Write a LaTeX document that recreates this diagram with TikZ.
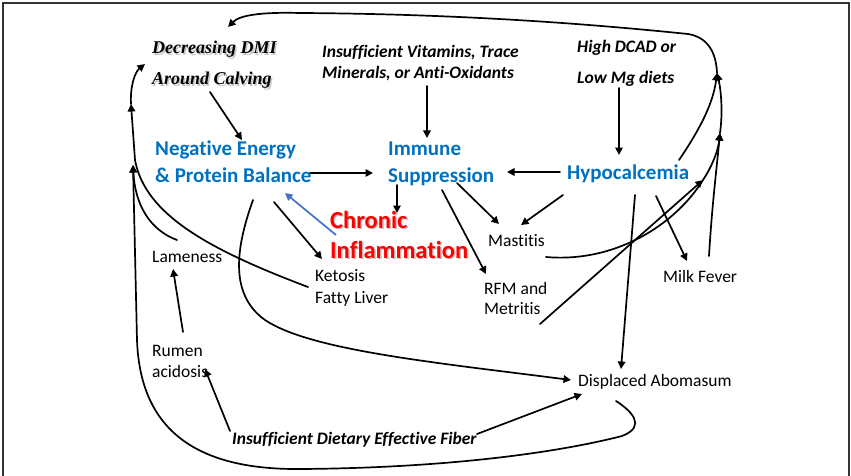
\documentclass[tikz,border=0pt]{standalone}
\usepackage{fontspec}
\setmainfont[Ligatures=NoCommon]{Carlito}
\newfontfamily\timesf{Liberation Serif}
\usetikzlibrary{arrows.meta}
\definecolor{oblue}{HTML}{0070C0}
\definecolor{ored}{HTML}{FF0000}
\definecolor{linkblue}{HTML}{4472C4}
\begin{document}
\begin{tikzpicture}[x=1pt,y=-1pt,
  txt/.style={inner sep=0pt, anchor=base west, font=\fontsize{17.5}{20}\selectfont},
  sbi/.style={txt, font=\fontsize{17.5}{20}\selectfont\bfseries\itshape},
  tbi/.style={txt, font=\fontsize{18}{20}\selectfont\timesf\bfseries\itshape},
  tsh/.style={tbi, text=black!22},
  bluet/.style={txt, font=\fontsize{21}{24}\selectfont\bfseries, text=oblue},
  redt/.style={txt, font=\fontsize{24.5}{28}\selectfont\bfseries, text=ored},
  redsh/.style={redt, text=black!25},
  ln/.style={line width=1.7pt, line cap=round},
  arr/.style={ln, -{Triangle[length=7.5pt,width=7.5pt]}},
  barr/.style={line width=1.7pt, draw=linkblue, -{Triangle[length=7.5pt,width=7.5pt]}}
]
\useasboundingbox (0,0) rectangle (851,476);
\draw[line width=1.6pt, black!80] (3,478) -- (3,3) -- (849,3) -- (849,478);

% text nodes
\node[tsh] (dmi1s) at (153.5,55.5) {Decreasing DMI};
\node[tbi] (dmi1) at (152,54) {Decreasing DMI};
\node[tsh] (dmi2s) at (153.5,86.5) {Around Calving};
\node[tbi] (dmi2) at (152,85) {Around Calving};
\node[sbi] (vit1) at (322,58) {Insufficient Vitamins, Trace};
\node[sbi] (vit2) at (322,79) {Minerals, or Anti-Oxidants};
\node[sbi] (dcad1) at (577,53) {High DCAD or};
\node[sbi] (dcad2) at (577,84) {Low Mg diets};
\node[bluet] (neb1) at (155,156) {Negative Energy};
\node[bluet] (neb2) at (155,182) {\& Protein Balance};
\node[bluet] (imm1) at (388,156) {Immune};
\node[bluet] (imm2) at (388,182) {Suppression};
\node[bluet] (hypo) at (567,179) {Hypocalcemia};
\node[redsh] (chr1s) at (331.5,229.5) {Chronic};
\node[redt] (chr1) at (330,228) {Chronic};
\node[redsh] (chr2s) at (331.5,259.5) {Inflammation};
\node[redt] (chr2) at (330,258) {Inflammation};
\node[txt] (mast) at (488,246) {Mastitis};
\node[txt] (lame) at (152,262) {Lameness};
\node[txt] (ket1) at (315,281) {Ketosis};
\node[txt] (ket2) at (315,303) {Fatty Liver};
\node[txt] (rfm1) at (484,294) {RFM and};
\node[txt] (rfm2) at (484,314) {Metritis};
\node[txt] (milk) at (663,282) {Milk Fever};
\node[txt] (rum1) at (152,356) {Rumen};
\node[txt] (rum2) at (152,377) {acidosis};
\node[txt] (da) at (578,386) {Displaced Abomasum};
\node[sbi] (fib) at (232,444) {Insufficient Dietary Effective Fiber};

% junction coordinates
\coordinate (rtA) at (717,73);
\coordinate (rtB) at (720,133);
\coordinate (rtC) at (703,180);
\coordinate (lfA) at (131,104);
\coordinate (lfB) at (133,165);
\coordinate (dmiIn) at (228,27);
\coordinate (dmiL) at (145,64);

% top loop to DMI
\draw[arr] (rtA) .. controls (716,50) and (706,37) .. (688,34)
  .. controls (600,25) and (470,14) .. (300,13)
  .. controls (262,12) and (240,15) .. (dmiIn);
\draw[arr] (rtB) .. controls (723,112) and (721,90) .. (rtA);
\draw[arr] (679,160) .. controls (698,132) and (713,105) .. (rtA);
\draw[arr] (709,256) .. controls (712,205) and (717,165) .. (rtB);
\draw[arr] (546,257) .. controls (615,263) and (675,225) .. (rtC)
  .. controls (711,168) and (718,152) .. (rtB);
\draw[arr] (540,324) -- (rtC);

% left side to DMI
\draw[arr] (lfA) .. controls (130,86) and (135,72) .. (dmiL);
\draw[arr] (308,287) .. controls (210,250) and (145,215) .. (135,160) -- (lfA);
\draw[arr] (177,240) .. controls (150,230) and (135,205) .. (lfB);
\draw[arr] (616,401) .. controls (630,410) and (648,426) .. (622,436)
  .. controls (560,452) and (450,468) .. (300,469)
  .. controls (190,470) and (140,425) .. (137,340) -- (lfB);

% main arrows
\draw[arr] (210,92) -- (242,140);
\draw[arr] (427,86) -- (427,138);
\draw[arr] (619,88) -- (619,155);
\draw[arr] (310,173) -- (373,173);
\draw[arr] (560,172) -- (507,172);
\draw[arr] (397,185) -- (397,213);
\draw[barr] (336,235) -- (285,193);
\draw[arr] (274,202) -- (322,259);
\draw[arr] (253,200) .. controls (235,250) and (230,295) .. (265,320)
  .. controls (310,350) and (430,362) .. (571,380);
\draw[arr] (457,183) -- (499,224);
\draw[arr] (563,195) -- (521,225);
\draw[arr] (442,190) -- (486,274);
\draw[arr] (656,196) -- (687,261);
\draw[arr] (635,195) -- (621,369);
\draw[arr] (183,332) -- (173,269);
\draw[arr] (230,431) -- (205,369);
\draw[arr] (477,434) -- (582,394);
\end{tikzpicture}
\end{document}
